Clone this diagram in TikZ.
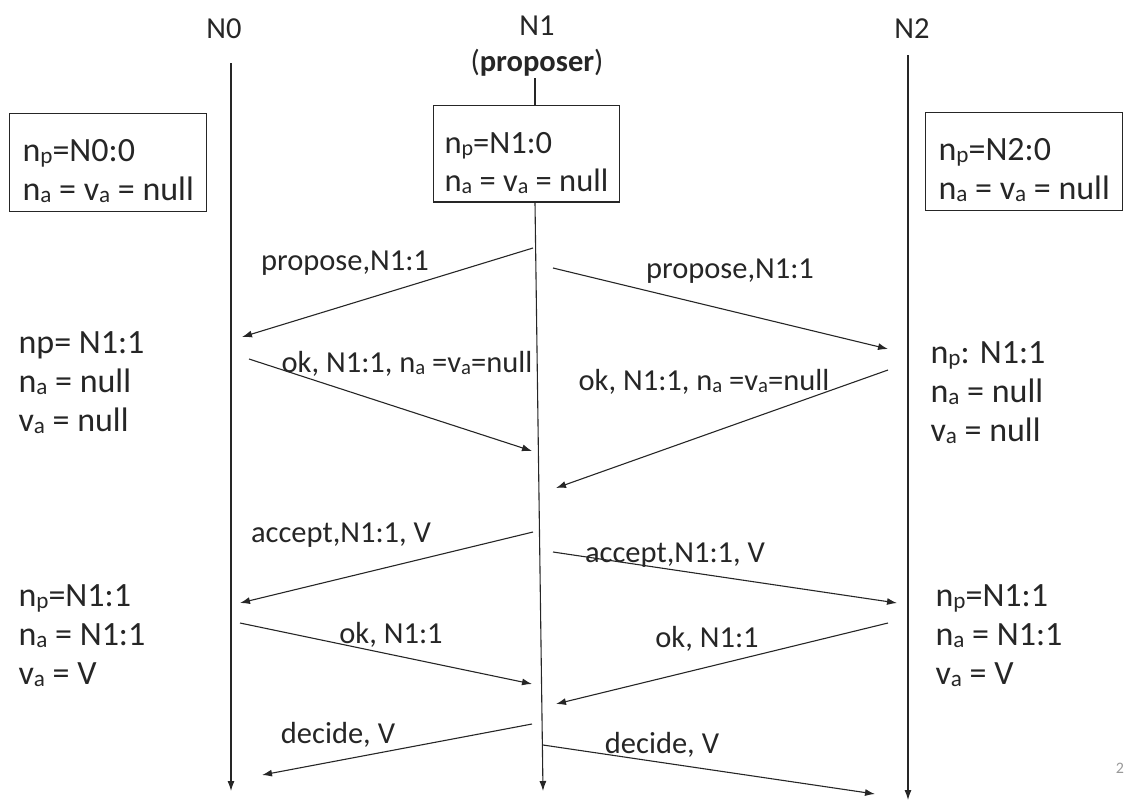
\documentclass[tikz,border=0pt]{standalone}
\usepackage{fontspec}
\setmainfont{Carlito}
\usetikzlibrary{arrows.meta}

\newcommand\sub[1]{\raisebox{-0.15ex}{\scalebox{0.68}{#1}}}
\newcommand\topstrut{\rule{0pt}{40pt}}

\begin{document}
\begin{tikzpicture}[
    x=1pt, y=-1pt,
    >={Latex[length=10pt,width=7pt]},
    line width=1.1pt, draw=black!85,
    head/.style={font=\fontsize{30.5}{36}\selectfont, align=center, inner sep=0pt, text=black!85},
    state/.style={font=\fontsize{34}{39}\selectfont, align=left, anchor=north west, inner sep=0pt, text=black!85},
    statebox/.style={state, draw, inner xsep=13pt, inner ysep=8pt},
    msg/.style={font=\fontsize{30.5}{34}\selectfont, anchor=base, inner sep=0pt, text=black!85},
  ]
  \useasboundingbox (0,0) rectangle (1146,801);

  % Heads
  \node[head, anchor=base] (h0) at (224,38) {N0};
  \node[head, anchor=north] (h1) at (537,15) {N1\\(\textbf{proposer})};
  \node[head, anchor=base] (h2) at (912,38) {N2};

  % Initial states
  \node[statebox] (s0) at (9,113) {\topstrut n\sub{p}=N0:0\\n\sub{a} = v\sub{a} = null};
  \node[statebox, font=\fontsize{32.5}{38}\selectfont, inner xsep=11pt] (s1) at (433,105) {\topstrut n\sub{p}=N1:0\\n\sub{a} = v\sub{a} = null};
  \node[statebox] (s2) at (925,112) {\topstrut n\sub{p}=N2:0\\n\sub{a} = v\sub{a} = null};

  % Lifelines
  \coordinate (t0) at (231,63);  \coordinate (e0) at (231,791);
  \coordinate (t1) at (535,78);  \coordinate (e1) at (543,791);
  \coordinate (t2) at (908,55);  \coordinate (e2) at (908,800);
  \draw[->] (t0) -- (e0);
  \draw (t1) -- (s1.north -| t1);
  \draw[->] (s1.south -| t1) -- (e1);
  \draw[->] (t2) -- (e2);

  % States after prepare
  \node[state] (p0) at (18,331) {np= N1:1\\n\sub{a} = null\\v\sub{a} = null};
  \node[state] (p2) at (930,341) {n\sub{p}: N1:1\\n\sub{a} = null\\v\sub{a} = null};

  % States after accept
  \node[state] (a0) at (18,584) {n\sub{p}=N1:1\\n\sub{a} = N1:1\\v\sub{a} = V};
  \node[state] (a2) at (935,584) {n\sub{p}=N1:1\\n\sub{a} = N1:1\\v\sub{a} = V};

  % Message ends
  \coordinate (m1a) at (533,248); \coordinate (m1b) at (242,337);
  \coordinate (m2a) at (553,268); \coordinate (m2b) at (888,349);
  \coordinate (m3a) at (249,359); \coordinate (m3b) at (532,451);
  \coordinate (m4a) at (888,370); \coordinate (m4b) at (556,488);
  \coordinate (m5a) at (533,532); \coordinate (m5b) at (240,603);
  \coordinate (m6a) at (553,552); \coordinate (m6b) at (897,603);
  \coordinate (m7a) at (240,623); \coordinate (m7b) at (532,684);
  \coordinate (m8a) at (888,623); \coordinate (m8b) at (556,704);
  \coordinate (m9a) at (532,724); \coordinate (m9b) at (262,775);
  \coordinate (m10a) at (543,745); \coordinate (m10b) at (875,794);

  % Messages
  \draw[->] (m1a) -- (m1b);
  \draw[->] (m2a) -- (m2b);
  \draw[->] (m3a) -- (m3b);
  \draw[->] (m4a) -- (m4b);
  \draw[->] (m5a) -- (m5b);
  \draw[->] (m6a) -- (m6b);
  \draw[->] (m7a) -- (m7b);
  \draw[->] (m8a) -- (m8b);
  \draw[->] (m9a) -- (m9b);
  \draw[->] (m10a) -- (m10b);

  % Labels
  \node[msg] (l1) at (345,270) {propose,N1:1};
  \node[msg] (l2) at (730,278) {propose,N1:1};
  \node[msg] (l3) at (407,372) {ok, N1:1, n\sub{a} =v\sub{a}=null};
  \node[msg] (l4) at (704,390) {ok, N1:1, n\sub{a} =v\sub{a}=null};
  \node[msg] (l5) at (341,542) {accept,N1:1, V};
  \node[msg] (l6) at (675,562) {accept,N1:1, V};
  \node[msg] (l7) at (391,643) {ok, N1:1};
  \node[msg] (l8) at (707,647) {ok, N1:1};
  \node[msg] (l9) at (338,743) {decide, V};
  \node[msg] (l10) at (662,753) {decide, V};

  \node[font=\fontsize{16}{16}\selectfont, text=black!40] (pg) at (1120,768) {2};
\end{tikzpicture}
\end{document}
